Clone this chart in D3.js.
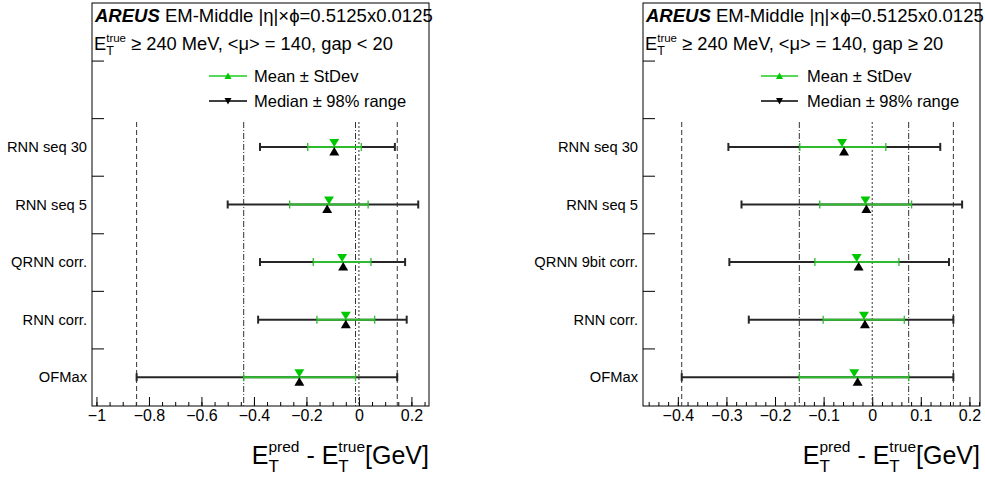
<!DOCTYPE html>
<html><head><meta charset="utf-8">
<script src="https://cdn.jsdelivr.net/npm/d3@7"></script>
<style>
body{margin:0;background:#fff;}
svg text{font-family:"Liberation Sans",Arial,Helvetica,sans-serif;white-space:pre;}
</style></head>
<body><svg id="c" width="985" height="477"></svg>
<script>
// ---- data ----
const categoriesLeft = ["OFMax","RNN corr.","QRNN corr.","RNN seq 5","RNN seq 30"];
const meanLeft    = [-0.227, -0.050, -0.064, -0.114, -0.094];
const stdLoLeft   = [-0.439, -0.160, -0.174, -0.264, -0.195];
const stdHiLeft   = [-0.013,  0.060,  0.046,  0.035,  0.009];
const medianLeft  = [-0.227, -0.050, -0.060, -0.121, -0.094];
const rangeLoLeft = [-0.847, -0.384, -0.377, -0.500, -0.377];
const rangeHiLeft = [ 0.146,  0.182,  0.176,  0.226,  0.137];
const ticksLeft   = [-1, -0.8, -0.6, -0.4, -0.2, 0, 0.2];

const categoriesRight = ["OFMax","RNN corr.","QRNN 9bit corr.","RNN seq 5","RNN seq 30"];
const meanRight    = [-0.037, -0.017, -0.032, -0.014, -0.062];
const stdLoRight   = [-0.150, -0.101, -0.118, -0.108, -0.149];
const stdHiRight   = [ 0.075,  0.066,  0.055,  0.081,  0.028];
const medianRight  = [-0.030, -0.015, -0.028, -0.012, -0.058];
const rangeLoRight = [-0.392, -0.254, -0.294, -0.269, -0.296];
const rangeHiRight = [ 0.167,  0.167,  0.158,  0.185,  0.140];
const ticksRight   = [-0.4, -0.3, -0.2, -0.1, 0, 0.1, 0.2];

const legendLabels = ["Mean \u00b1 StDev", "Median \u00b1 98% range"];
const gapLabels = ["gap < 20", "gap \u2265 20"];

const svg = d3.select("#c");
const GREEN_M = "#00c800", GREEN_L = "#2dbb2d", BLACK_L = "#262626";

function rich(g, x, y, parts, anchorEnd) {
  const grp = g.append("g");
  let cx = 0;
  parts.forEach(p => {
    if (p.sup !== undefined || p.sub !== undefined) {
      let w = 0;
      if (p.sup) { const t = grp.append("text").attr("x", cx).attr("y", p.supDy).style("font-size", p.supSize+"px").text(p.sup); w = Math.max(w, t.node().getComputedTextLength()); }
      if (p.sub) { const t = grp.append("text").attr("x", cx).attr("y", p.subDy).style("font-size", p.subSize+"px").text(p.sub); w = Math.max(w, t.node().getComputedTextLength()); }
      cx += w;
    } else {
      const t = grp.append("text").attr("x", cx).attr("y", 0).style("font-size", p.size+"px")
        .style("font-weight", p.bold ? "bold" : "normal").style("font-style", p.italic ? "italic" : "normal").text(p.t);
      cx += t.node().getComputedTextLength();
    }
  });
  grp.attr("transform", `translate(${anchorEnd ? x - cx : x},${y})`);
}

function panel(cfg) {
  const g = svg.append("g");
  const x = d3.scaleLinear().domain(cfg.domain).range([cfg.x0, cfg.x1]);
  const y = d3.scaleLinear().domain([0, 7]).range([406, 3]);

  // frame
  g.append("rect").attr("x", cfg.x0).attr("y", 3).attr("width", cfg.x1 - cfg.x0).attr("height", 403)
    .attr("fill", "none").attr("stroke", "#000").attr("stroke-width", 1);

  // y ticks at bin edges
  const ya = d3.axisLeft(y).tickValues([1,2,3,4,5,6]).tickSize(-12).tickFormat("");
  const yg = g.append("g").attr("transform", `translate(${cfg.x0},0)`).call(ya);
  yg.select(".domain").remove();
  yg.selectAll("line").attr("stroke", "#000");

  // category labels
  g.selectAll(".cat").data(cfg.cats).enter().append("text")
    .attr("x", cfg.labelX).attr("y", (d, i) => y(i + 0.5) + 5)
    .attr("text-anchor", "end").style("font-size", "14.7px").text(d => d);

  // x axis minor
  const minor = d3.range(Math.ceil(cfg.domain[0] / cfg.minorStep), Math.floor(cfg.domain[1] / cfg.minorStep) + 1).map(k => k * cfg.minorStep);
  const xm = g.append("g").attr("transform", "translate(0,406)")
    .call(d3.axisBottom(x).tickValues(minor).tickSize(-4).tickFormat(""));
  xm.select(".domain").remove();
  const xa = g.append("g").attr("transform", "translate(0,406)")
    .call(d3.axisBottom(x).tickValues(cfg.ticks).tickSize(-9).tickPadding(4).tickFormat(d3.format("")));
  xa.select(".domain").remove();
  xa.selectAll("text").style("font-size", "16px").attr("fill", "#000");
  xa.selectAll("line").attr("stroke", "#000");
  xm.selectAll("line").attr("stroke", "#000");

  // reference lines from OFMax (index 0)
  const refs = [
    {v: cfg.rLo[0], dash: "5,3"}, {v: cfg.rHi[0], dash: "5,3"},
    {v: cfg.sLo[0], dash: "6,2,1,2"}, {v: cfg.sHi[0], dash: "6,2,1,2"},
    {v: 0, dash: "2,2"}
  ];
  g.selectAll(".ref").data(refs).enter().append("line")
    .attr("x1", d => x(d.v)).attr("x2", d => x(d.v)).attr("y1", 122).attr("y2", 406)
    .attr("stroke", "#333").attr("stroke-width", 1).attr("stroke-dasharray", d => d.dash);

  // whiskers: median +- 98% range
  cfg.cats.forEach((c, i) => {
    const yy = y(i + 0.5);
    g.append("line").attr("x1", x(cfg.rLo[i])).attr("x2", x(cfg.rHi[i])).attr("y1", yy).attr("y2", yy)
      .attr("stroke", BLACK_L).attr("stroke-width", 2);
    [cfg.rLo[i], cfg.rHi[i]].forEach(v => g.append("line").attr("x1", x(v)).attr("x2", x(v))
      .attr("y1", yy - 4).attr("y2", yy + 4).attr("stroke", BLACK_L).attr("stroke-width", 2));
    g.append("line").attr("x1", x(cfg.sLo[i])).attr("x2", x(cfg.sHi[i])).attr("y1", yy).attr("y2", yy)
      .attr("stroke", GREEN_L).attr("stroke-width", 2);
    [cfg.sLo[i], cfg.sHi[i]].forEach(v => g.append("line").attr("x1", x(v)).attr("x2", x(v))
      .attr("y1", yy - 4).attr("y2", yy + 4).attr("stroke", GREEN_L).attr("stroke-width", 1.3));
    const mx = x(cfg.mean[i]);
    g.append("path").attr("d", `M${mx - 5},${yy - 8}L${mx + 5},${yy - 8}L${mx},${yy}Z`).attr("fill", GREEN_M);
    const dx = x(cfg.med[i]);
    g.append("path").attr("d", `M${dx - 5},${yy + 8.5}L${dx + 5},${yy + 8.5}L${dx},${yy}Z`).attr("fill", "#000");
  });

  // header text
  rich(g, cfg.x0 + 3, 22, [
    {t: "AREUS", size: 18.5, bold: true, italic: true},
    {t: " EM-Middle |\u03b7|\u00d7\u03d5=0.5125x0.0125", size: 18.5}
  ]);
  rich(g, cfg.x0 + 2, 50, [
    {t: "E", size: 18.3},
    {sup: "true", supSize: 11.5, supDy: -8, sub: "T", subSize: 12.5, subDy: 5},
    {t: " \u2265 240 MeV, <\u03bc> = 140, " + cfg.gap, size: 18.3}
  ]);

  // legend
  const leg = [{lab: legendLabels[0], col: "#22cc22", up: true, y: 76}, {lab: legendLabels[1], col: "#000", up: false, y: 101}];
  leg.forEach(l => {
    g.append("line").attr("x1", cfg.legX[0]).attr("x2", cfg.legX[1]).attr("y1", l.y).attr("y2", l.y)
      .attr("stroke", l.col).attr("stroke-width", 1.5);
    const cx = (cfg.legX[0] + cfg.legX[1]) / 2;
    const p = l.up ? `M${cx - 3.5},${l.y + 3}L${cx + 3.5},${l.y + 3}L${cx},${l.y - 3.5}Z`
                   : `M${cx - 3.5},${l.y - 3}L${cx + 3.5},${l.y - 3}L${cx},${l.y + 3.5}Z`;
    g.append("path").attr("d", p).attr("fill", l.up ? GREEN_M : "#000");
    g.append("text").attr("x", cfg.legTextX).attr("y", l.y + 6).style("font-size", "16.5px").text(l.lab);
  });

  // axis title
  rich(g, cfg.x1, 464, [
    {t: "E", size: 25},
    {sup: "pred", supSize: 15.5, supDy: -12, sub: "T", subSize: 17, subDy: 8},
    {t: " - E", size: 25},
    {sup: "true", supSize: 15.5, supDy: -12, sub: "T", subSize: 17, subDy: 8},
    {t: "[GeV]", size: 25}
  ], true);
}

panel({x0: 92, x1: 429, domain: [-1.017, 0.267], ticks: ticksLeft, minorStep: 0.05, labelX: 87,
  legX: [209, 247], legTextX: 254, gap: gapLabels[0],
  cats: categoriesLeft, mean: meanLeft, sLo: stdLoLeft, sHi: stdHiLeft, med: medianLeft, rLo: rangeLoLeft, rHi: rangeHiLeft});
panel({x0: 643, x1: 980, domain: [-0.4717, 0.2218], ticks: ticksRight, minorStep: 0.02, labelX: 638,
  legX: [761, 798], legTextX: 807, gap: gapLabels[1],
  cats: categoriesRight, mean: meanRight, sLo: stdLoRight, sHi: stdHiRight, med: medianRight, rLo: rangeLoRight, rHi: rangeHiRight});
</script></body></html>
